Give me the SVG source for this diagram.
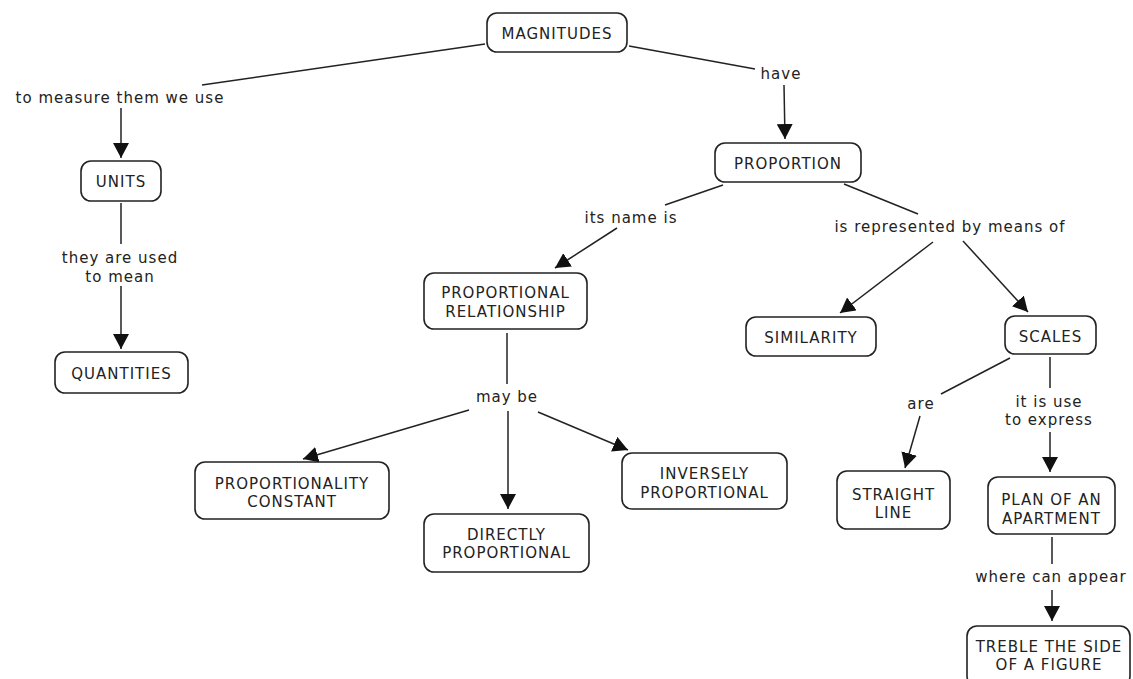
<svg xmlns="http://www.w3.org/2000/svg" width="1133" height="679" viewBox="0 0 1133 679">
<defs>
<style>
.n rect{fill:#fff;stroke:#222;stroke-width:1.6}
text{font-family:"DejaVu Sans","Verdana",sans-serif;font-size:15px;fill:#222;letter-spacing:1px;text-anchor:middle}
.c line{stroke:#222;stroke-width:1.5}
.c line.a{marker-end:url(#arr)}
</style>
<marker id="arr" markerUnits="userSpaceOnUse" markerWidth="16" markerHeight="16" refX="15" refY="8" orient="auto">
<path d="M0,0 L15,8 L0,16 z" fill="#111"/>
</marker>
</defs>
<rect width="1133" height="679" fill="#fff"/>
<g class="c" id="connectors">
<line x1="485" y1="44" x2="202" y2="85"/>
<line class="a" x1="121" y1="108" x2="121" y2="158"/>
<line x1="121" y1="203" x2="121" y2="244"/>
<line class="a" x1="121" y1="286" x2="121" y2="349"/>
<line x1="629" y1="46" x2="755" y2="69"/>
<line class="a" x1="784" y1="85" x2="785" y2="139"/>
<line x1="723" y1="185" x2="665" y2="205"/>
<line class="a" x1="617" y1="228" x2="555" y2="268"/>
<line x1="844" y1="184" x2="918" y2="214"/>
<line class="a" x1="933" y1="242" x2="840" y2="313"/>
<line class="a" x1="963" y1="241" x2="1028" y2="312"/>
<line x1="507" y1="333" x2="507" y2="384"/>
<line class="a" x1="469" y1="410" x2="303" y2="459"/>
<line class="a" x1="508" y1="411" x2="508" y2="509"/>
<line class="a" x1="538" y1="412" x2="628" y2="450"/>
<line x1="1010" y1="358" x2="941" y2="394"/>
<line class="a" x1="920" y1="416" x2="905" y2="468"/>
<line x1="1050" y1="357" x2="1050" y2="388"/>
<line class="a" x1="1050" y1="432" x2="1050" y2="472"/>
<line x1="1052" y1="537" x2="1052" y2="564"/>
<line class="a" x1="1052" y1="590" x2="1052" y2="621"/>
</g>
<g id="labels">
<text x="120" y="103">to measure them we use</text>
<text x="120" y="263">they are used</text>
<text x="120" y="282">to mean</text>
<text x="781" y="79">have</text>
<text x="631" y="223">its name is</text>
<text x="950" y="232">is represented by means of</text>
<text x="507" y="402">may be</text>
<text x="921" y="409">are</text>
<text x="1049" y="407">it is use</text>
<text x="1049" y="425">to express</text>
<text x="1051" y="582">where can appear</text>
</g>
<g class="n" id="magnitudes"><rect x="487" y="13" width="140" height="39" rx="10"/><text x="557" y="38.5">MAGNITUDES</text></g>
<g class="n" id="units"><rect x="81" y="161" width="80" height="40" rx="10"/><text x="121" y="187">UNITS</text></g>
<g class="n" id="quantities"><rect x="55" y="352" width="133" height="41" rx="10"/><text x="121.5" y="378.5">QUANTITIES</text></g>
<g class="n" id="proportion"><rect x="715" y="143" width="146" height="39" rx="10"/><text x="788" y="168.5">PROPORTION</text></g>
<g class="n" id="proportional-relationship"><rect x="424" y="273" width="163" height="56" rx="10"/><text x="505.5" y="297.5">PROPORTIONAL</text><text x="505.5" y="316.5">RELATIONSHIP</text></g>
<g class="n" id="similarity"><rect x="746" y="317" width="130" height="39" rx="10"/><text x="811" y="343">SIMILARITY</text></g>
<g class="n" id="scales"><rect x="1005" y="316" width="91" height="38" rx="10"/><text x="1050.5" y="342">SCALES</text></g>
<g class="n" id="proportionality-constant"><rect x="195" y="462" width="194" height="57" rx="10"/><text x="292" y="488.5">PROPORTIONALITY</text><text x="292" y="506.5">CONSTANT</text></g>
<g class="n" id="directly-proportional"><rect x="424" y="514" width="165" height="58" rx="10"/><text x="506.5" y="539.5">DIRECTLY</text><text x="506.5" y="557.5">PROPORTIONAL</text></g>
<g class="n" id="inversely-proportional"><rect x="622" y="453" width="165" height="56" rx="10"/><text x="704.5" y="479">INVERSELY</text><text x="704.5" y="498">PROPORTIONAL</text></g>
<g class="n" id="straight-line"><rect x="837" y="471" width="113" height="58" rx="10"/><text x="893.5" y="499.5">STRAIGHT</text><text x="893.5" y="517.5">LINE</text></g>
<g class="n" id="plan-of-an-apartment"><rect x="988" y="477" width="127" height="57" rx="10"/><text x="1051.5" y="504.5">PLAN OF AN</text><text x="1051.5" y="523.5">APARTMENT</text></g>
<g class="n" id="treble"><rect x="967" y="626" width="163" height="60" rx="10"/><text x="1049" y="651.5">TREBLE THE SIDE</text><text x="1049" y="669.5">OF A FIGURE</text></g>
</svg>
